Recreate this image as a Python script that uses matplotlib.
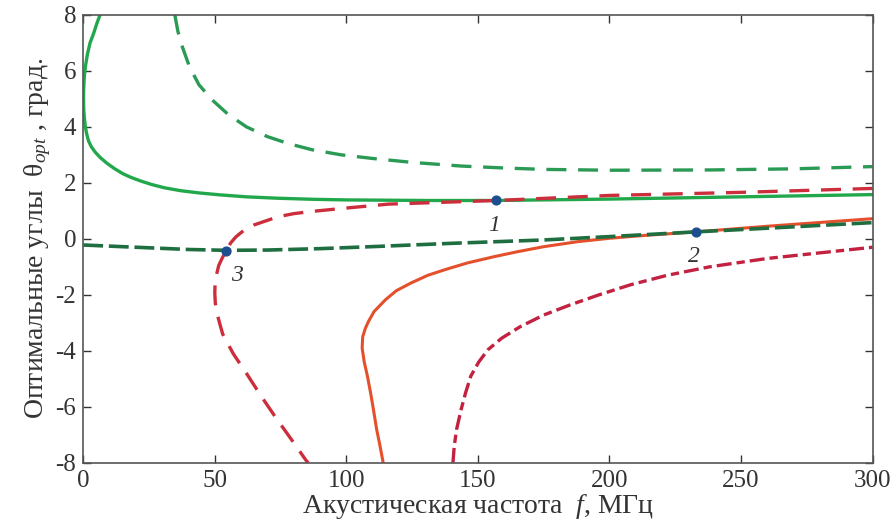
import numpy as np
import matplotlib
matplotlib.use("Agg")
import matplotlib.pyplot as plt

plt.rcParams["font.family"] = ["Liberation Serif", "DejaVu Serif"]
plt.rcParams["mathtext.fontset"] = "custom"
plt.rcParams["mathtext.rm"] = "Liberation Serif"
plt.rcParams["mathtext.it"] = "Liberation Serif:italic"
plt.rcParams["axes.unicode_minus"] = False

# =========================
# CURVES: (frequency MHz, optimal angle deg)
# =========================
# green solid, upper branch
f_green_solid = [6.4, 5.2, 4.0, 2.6, 1.6, 0.9, 0.4, 0.15, 0.1, 0.2, 0.45, 0.8, 1.3, 2.0, 3.0,
                 4.5, 6.5, 9, 12, 15, 18, 22, 26, 31, 37, 44, 52, 62, 74, 88, 100, 130, 157,
                 200, 250, 300]
th_green_solid = [8, 7.7, 7.35, 7.0, 6.6, 6.2, 5.8, 5.3, 5.0, 4.6, 4.3, 4.0, 3.75, 3.5, 3.3,
                  3.1, 2.9, 2.7, 2.5, 2.33, 2.2, 2.06, 1.94, 1.82, 1.72, 1.64, 1.57, 1.5, 1.45,
                  1.41, 1.39, 1.37, 1.37, 1.42, 1.5, 1.58]

# green dashed, upper branch
f_green_dash = [34.8, 36, 37.5, 40.4, 44, 49, 55, 62, 70, 78, 87, 98, 110, 125, 143.6, 160,
                175, 200, 238, 270, 300]
th_green_dash = [8, 7.4, 6.9, 6.14, 5.5, 4.96, 4.45, 4.0, 3.65, 3.4, 3.18, 3.0, 2.87, 2.73,
                 2.6, 2.53, 2.48, 2.45, 2.46, 2.5, 2.58]

# red dashed, C-shaped branch through points 1 and 3
f_red_dash = [300, 250, 200, 157, 116, 100, 87, 80, 74, 70, 65, 61, 58, 56, 54.4, 53, 51.5,
              50.6, 50.1, 50, 50.2, 50.8, 51.8, 53, 57, 62, 67.5, 73, 79, 84.6, 85.5]
th_red_dash = [1.8, 1.66, 1.55, 1.37, 1.24, 1.1, 0.98, 0.9, 0.79, 0.66, 0.5, 0.3, 0.07, -0.15,
               -0.43, -0.65, -0.95, -1.3, -1.6, -1.95, -2.3, -2.65, -3.0, -3.4, -4.1, -4.8,
               -5.6, -6.36, -7.15, -7.9, -8]

# dark green dashed, lower branch
f_dkgreen_dash = [0, 20, 40, 54.4, 70, 90, 112, 140, 175, 200, 233, 260, 300]
th_dkgreen_dash = [-0.22, -0.3, -0.38, -0.41, -0.4, -0.35, -0.27, -0.16, -0.04, 0.08, 0.25,
                   0.38, 0.58]

# orange solid, lower branch
f_orange = [114, 112.8, 111.5, 110.3, 109.2, 108, 106.8, 106, 106.2, 107.2, 108.4, 110.5,
            114.8, 119, 124.7, 131, 137.5, 146, 156, 165, 175, 188, 200, 213, 233, 260, 300]
th_orange = [-8, -7.4, -6.8, -6.1, -5.5, -4.9, -4.4, -3.9, -3.5, -3.2, -2.95, -2.6, -2.18,
             -1.85, -1.57, -1.3, -1.1, -0.86, -0.64, -0.46, -0.28, -0.1, 0.02, 0.12, 0.25,
             0.45, 0.72]

# red dash-dot, lower right branch
f_red_dd = [140.5, 141, 141.9, 143.6, 145.3, 147.3, 150.3, 153.8, 159, 166, 175, 185, 196,
            208, 222, 238, 260, 280, 300]
th_red_dd = [-8, -7.4, -6.8, -6.1, -5.5, -4.9, -4.4, -3.96, -3.55, -3.14, -2.72, -2.36, -2.0,
             -1.64, -1.3, -1.0, -0.7, -0.5, -0.3]

# marked intersection points
pt_f = [157, 233, 54.4]
pt_th = [1.37, 0.25, -0.42]
pt_labels = ["1", "2", "3"]

fig = plt.figure(figsize=(8.95, 5.29), dpi=100)
ax = fig.add_axes([0.093, 0.125, 0.882, 0.847])

lw = 2.4
ax.plot(f_green_solid, th_green_solid, color="#22a84c", lw=lw)
ax.plot(f_green_dash, th_green_dash, color="#2a9a55", lw=lw, dashes=(6, 3.5))
ax.plot(f_red_dash, th_red_dash, color="#cc2e3c", lw=lw, dashes=(6, 3.5))
ax.plot(f_orange, th_orange, color="#e4502c", lw=2.2)
ax.plot(f_dkgreen_dash, th_dkgreen_dash, color="#1f6e40", lw=2.6, dashes=(5.5, 1.6))
ax.plot(f_red_dd, th_red_dd, color="#c22240", lw=lw, dashes=(4.5, 1.5, 2.5, 1.5))

ax.scatter(pt_f, pt_th, s=40, color="#1d4f8f", zorder=5)
offsets = [(-6, -22), (-6, -22), (3, -22)]
for f, th, lab, off in zip(pt_f, pt_th, pt_labels, offsets):
    ax.annotate(lab, (f, th), xytext=off, textcoords="offset points",
                fontsize=17, fontstyle="italic", color="#333333")

ax.set_xlim(0, 300)
ax.set_ylim(-8, 8)
ax.set_xticks(np.arange(0, 301, 50))
ax.set_yticks(np.arange(-8, 9, 2))
ax.tick_params(direction="in", top=True, right=True, length=6, width=1, labelsize=18,
               colors="#333333", pad=5)
for s in ax.spines.values():
    s.set_color("#555555")
    s.set_linewidth(1.2)

ax.set_xlabel(r"Акустическая частота  $\mathit{f}$, МГц", fontsize=20, color="#333333",
              labelpad=0)
ax.set_ylabel(r"Оптимальные углы  θ$_{opt}$ , град.", fontsize=20, color="#333333",
              labelpad=2)

fig.savefig("out.png", dpi=100)
